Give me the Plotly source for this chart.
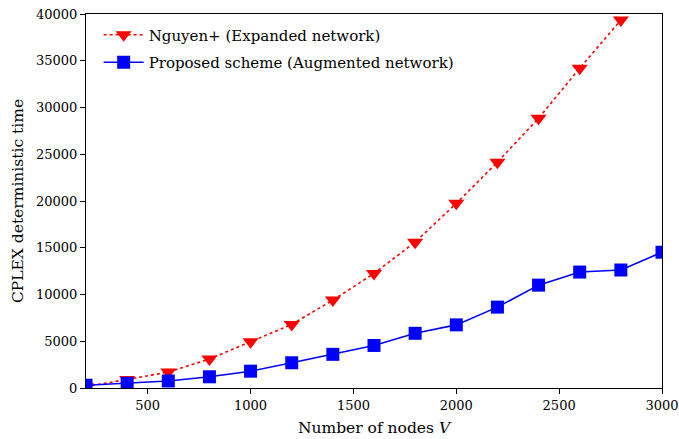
import plotly.graph_objects as go

nodes = [200, 400, 600, 800, 1000, 1200, 1400, 1600, 1800, 2000, 2200, 2400, 2600, 2800, 3000]
nguyen_time = [150, 900, 1700, 3100, 4950, 6800, 9400, 12250, 15600, 19750, 24150, 28850, 34200, 39350]
proposed_time = [300, 500, 750, 1200, 1800, 2700, 3600, 4550, 5850, 6750, 8650, 11000, 12400, 12620, 14520]

x_ticks = [500, 1000, 1500, 2000, 2500, 3000]
y_ticks = [0, 5000, 10000, 15000, 20000, 25000, 30000, 35000, 40000]

font_family = "DejaVu Serif"

fig = go.Figure()
fig.add_trace(go.Scatter(
    x=nodes[:len(nguyen_time)], y=nguyen_time,
    mode="lines+markers",
    name="Nguyen+ (Expanded network)",
    legendgroup="nguyen",
    line=dict(color="#ff0000", width=1.6, dash="dot"),
    marker=dict(symbol="triangle-down", size=14, color="#ff0000"),
))
fig.add_trace(go.Scatter(
    x=nodes, y=proposed_time,
    mode="lines+markers",
    name="Proposed scheme (Augmented network)",
    legendgroup="proposed",
    line=dict(color="#0000ff", width=1.6),
    marker=dict(symbol="square", size=13, color="#0000ff"),
))

axis_common = dict(
    showgrid=False, zeroline=False, automargin=False,
    showline=True, linecolor="black", linewidth=1.2, mirror=True,
    ticks="outside", ticklen=5, tickwidth=1, tickcolor="black",
    tickfont=dict(family=font_family, size=13, color="black"),
)

fig.update_layout(
    width=679, height=439,
    margin=dict(l=86, r=17, t=14, b=51),
    paper_bgcolor="white", plot_bgcolor="white",
    font=dict(family=font_family, size=14, color="black"),
    xaxis=dict(range=[200, 3000], tickvals=x_ticks,
               ticktext=[str(v) for v in x_ticks],
               title=dict(text="Number of nodes <i>V</i>", standoff=10,
                          font=dict(family=font_family, size=15.5)),
               **axis_common),
    yaxis=dict(range=[0, 40000], tickvals=y_ticks,
               ticktext=[str(v) for v in y_ticks],
               title=dict(text="CPLEX deterministic time", standoff=8,
                          font=dict(family=font_family, size=15.5)),
               **axis_common),
    legend=dict(x=0.022, y=0.988, xanchor="left", yanchor="top",
                bgcolor="rgba(255,255,255,0.8)", borderwidth=0,
                font=dict(family=font_family, size=15),
                itemwidth=40, traceorder="grouped", tracegroupgap=5),
    showlegend=True,
)

fig.write_html("out.html")
